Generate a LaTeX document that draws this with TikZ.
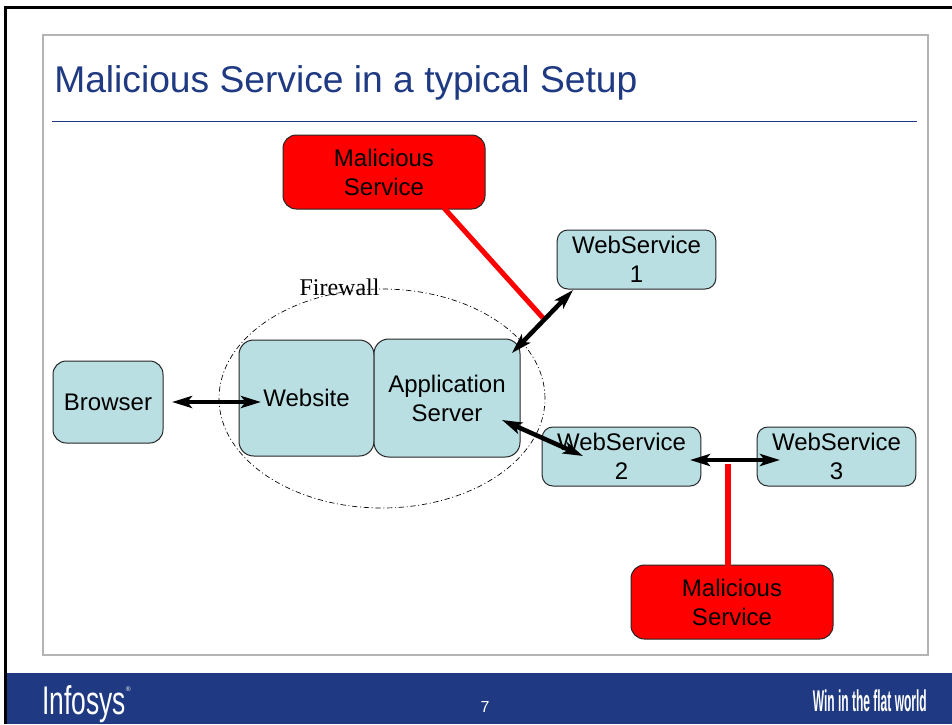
\documentclass[tikz,border=0pt]{standalone}
\usepackage{fontspec}
\setmainfont{Liberation Sans}
\newfontfamily\serifface{Liberation Serif}
\usetikzlibrary{arrows.meta,shapes.geometric}
\definecolor{boxteal}{HTML}{B9DFE3}
\definecolor{navy}{HTML}{1F3A82}
\definecolor{framegrey}{HTML}{B4B4B4}
\tikzset{
  box/.style={draw=black!85, line width=0.75pt, fill=boxteal, rounded corners=11pt, align=center, font=\fontsize{18}{21.7}\selectfont, inner sep=0pt, text=black, minimum width=#1},
  wsbox/.style={box=119pt, minimum height=44.25pt, rounded corners=8pt},
  badbox/.style={box=151.5pt, minimum height=55.5pt, fill=red, rounded corners=10pt},
  link/.style={line width=3.4pt, {Stealth[length=15pt,width=9pt,inset=3.5pt]}-{Stealth[length=15pt,width=9pt,inset=3.5pt]}},
  redlink/.style={draw=red, line width=3.8pt},
  footertext/.style={text=white, inner sep=0pt}
}
\begin{document}
\begin{tikzpicture}[x=0.75pt,y=-0.75pt]
\useasboundingbox (0,0) rectangle (952,724);
\fill[white] (0,0) rectangle (952,724);
% frame
\fill[black] (4,6) rectangle (952,9);
\fill[black] (4,6) rectangle (7,724);
\fill[navy] (7,673) rectangle (952,724);
\draw[framegrey, line width=1.5pt] (43,35) rectangle (928,655);
% title
\node[anchor=base west, inner sep=0pt, text=navy, font=\fontsize{27.9}{32}\selectfont] (title) at (54,93) {Malicious Service in a typical Setup};
\coordinate (ruleL) at (52,121);
\coordinate (ruleR) at (917,121);
\draw[navy, line width=0.7pt] (ruleL) -- (ruleR);
% firewall
\node[draw=black, line width=0.5pt, dash pattern=on 4pt off 2pt on 0.75pt off 2pt, ellipse, inner sep=0pt, minimum width=244.5pt, minimum height=164.25pt] (firewall) at (382,398.5) {};
\node[inner sep=0pt, font=\serifface\fontsize{18}{21}\selectfont] (fwlabel) at (339.5,287) {Firewall};
% boxes
\node[box=101.25pt, minimum height=87pt] (website) at (306.5,398) {Website};
\node[box=109.5pt, minimum height=88.5pt] (app) at (447,398) {Application\\Server};
\node[box=82.5pt, minimum height=61.5pt, rounded corners=10pt] (browser) at (108,402) {Browser};
\node[wsbox] (ws1) at (636.5,259.5) {WebService\\1};
\node[wsbox] (ws2) at (621.5,456.5) {WebService\\2};
\node[wsbox] (ws3) at (836.5,456.5) {WebService\\3};
\node[badbox] (mal1) at (384,172) {Malicious\\Service};
\node[badbox] (mal2) at (732,602) {Malicious\\Service};
% connector ends
\coordinate (redA) at (543,318);
\coordinate (redB) at (728,464);
\coordinate (brEnd) at (172,402);
\coordinate (webEnd) at (261,402);
\coordinate (appNE) at (512,353);
\coordinate (ws1End) at (573,290);
\coordinate (appSE) at (502,420);
\coordinate (ws2End) at (583,456);
\coordinate (ws2R) at (690,460);
\coordinate (ws3L) at (780,460);
\coordinate (mal1Foot) at (444,208);
\coordinate (mal2Top) at (728,566);
% connectors
\draw[redlink] (mal1Foot) -- (redA);
\draw[redlink] (mal2Top) -- (redB);
\draw[link] (brEnd) -- (webEnd);
\draw[link] (appNE) -- (ws1End);
\draw[link] (appSE) -- (ws2End);
\draw[link] (ws2R) -- (ws3L);
% footer
\node[footertext, anchor=base west, font=\fontsize{30}{34}\selectfont] (logo) at (42,714) {\scalebox{0.66}[1]{Infosys}\raisebox{17pt}{\fontsize{5}{6}\selectfont ®}};
\node[footertext, anchor=base, font=\fontsize{12}{14}\selectfont] (pageno) at (485,712) {7};
\node[footertext, anchor=base east, font=\bfseries\fontsize{22.5}{26}\selectfont] (slogan) at (927,711) {\scalebox{0.40}[1]{Win in the flat world}};
\end{tikzpicture}
\end{document}
